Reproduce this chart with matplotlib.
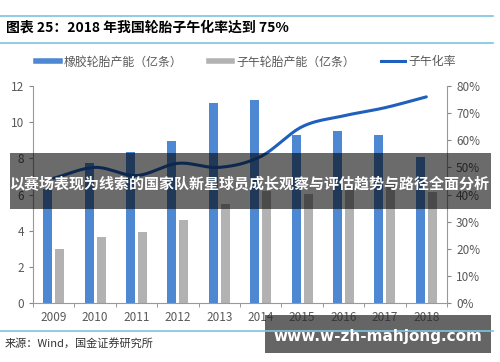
import numpy as np
import matplotlib.pyplot as plt
from matplotlib.patches import Rectangle
from matplotlib.lines import Line2D

plt.rcParams['font.family'] = ['Noto Sans CJK SC', 'DejaVu Sans']

# -----------------------
# DATA
# -----------------------
years = ['2009', '2010', '2011', '2012', '2013', '2014', '2015', '2016', '2017', '2018']
rubber = [6.3, 7.75, 8.35, 8.95, 11.05, 11.2, 9.3, 9.5, 9.3, 8.1]
radial = [3.0, 3.63, 3.93, 4.6, 5.5, 6.2, 6.05, 6.4, 6.7, 6.15]
radial_rate = [46, 50, 47, 51.5, 50, 54, 65, 69, 72, 76]

labels = ['橡胶轮胎产能（亿条）', '子午轮胎产能（亿条）', '子午化率']
title = '图表 25：2018 年我国轮胎子午化率达到 75%'
source = '来源：Wind，国金证券研究所'
banner = '以赛场表现为线索的国家队新星球员成长观察与评估趋势与路径全面分析'
watermark = 'www.w-zh-mahjong.com'

blue = '#4f88d2'
grey = '#b2b2b2'
line_blue = '#1f5fbe'
tick_col = '#595959'


def smooth(x, y, n=20):
    # catmull-rom through the points, only for drawing the curve
    x = np.asarray(x, float)
    y = np.asarray(y, float)
    px = np.concatenate([[2 * x[0] - x[1]], x, [2 * x[-1] - x[-2]]])
    py = np.concatenate([[2 * y[0] - y[1]], y, [2 * y[-1] - y[-2]]])
    xs, ys = [], []
    t = np.linspace(0, 1, n, endpoint=False)
    for i in range(1, len(px) - 2):
        for p, out in ((px, xs), (py, ys)):
            p0, p1, p2, p3 = p[i - 1], p[i], p[i + 1], p[i + 2]
            out.extend(0.5 * (2 * p1 + (-p0 + p2) * t
                              + (2 * p0 - 5 * p1 + 4 * p2 - p3) * t ** 2
                              + (-p0 + 3 * p1 - 3 * p2 + p3) * t ** 3))
    xs.append(x[-1])
    ys.append(y[-1])
    return np.array(xs), np.array(ys)


# -----------------------
# FIGURE
# -----------------------
fig = plt.figure(figsize=(5, 3.62), dpi=100)
ax = fig.add_axes([0.066, 0.163, 0.828, 0.5994])
ax2 = ax.twinx()

x = np.arange(len(years))
w = 0.22
ax.bar(x - 0.145, rubber, w, color=blue, zorder=2)
ax.bar(x + 0.145, radial, w, color=grey, zorder=2)

sx, sy = smooth(x, radial_rate)
ax2.plot(sx, sy, color=line_blue, lw=2.2, solid_capstyle='round')

ax.set_xlim(-0.5, len(years) - 0.5)
ax.set_ylim(0, 12)
ax.set_yticks(range(0, 13, 2))
ax2.set_ylim(0, 80)
ax2.set_yticks(range(0, 81, 10))
ax2.set_yticklabels([f'{v}%' for v in range(0, 81, 10)])

ax.set_xticks(x)
ax.set_xticklabels(years)
ax.set_xticks(np.arange(-0.5, len(years), 1), minor=True)
ax.tick_params(axis='x', which='major', length=0, pad=6)
ax.tick_params(axis='x', which='minor', length=3, color='#888888')

for a in (ax, ax2):
    a.spines['top'].set_visible(False)
    for s in ('left', 'right', 'bottom'):
        a.spines[s].set_color('#999999')
        a.spines[s].set_linewidth(0.8)
    a.tick_params(axis='y', labelsize=8.5, labelcolor=tick_col, color='#888888', length=3)
ax.tick_params(axis='x', labelsize=8.5, labelcolor=tick_col)
ax.spines['right'].set_visible(False)
ax2.spines['left'].set_visible(False)
ax2.spines['bottom'].set_visible(False)

# legend
handles = [Line2D([], [], color=blue, lw=4),
           Line2D([], [], color=grey, lw=4),
           Line2D([], [], color=line_blue, lw=2.2)]
fig.legend(handles, labels, loc='center', bbox_to_anchor=(0.492, 0.829), ncol=3,
           frameon=False, fontsize=8.6, handlelength=2.0, columnspacing=2.2,
           handletextpad=0.3, labelcolor=tick_col)

# title and rules
fig.text(0.012, 1 - 28 / 362, title, fontsize=10, fontweight='bold', va='center', color='black')
for yy in (16, 43, 331):
    fig.add_artist(Line2D([0.0, 0.986], [1 - yy / 362] * 2, color='#7cc4e0', lw=1.2))
fig.text(0.01, 1 - 343 / 362, source, fontsize=8, va='center', color='#333333')

# overlay banner
fig.add_artist(Rectangle((10 / 500, 1 - 209 / 362), 481 / 500, 56 / 362,
                         transform=fig.transFigure, color='black', alpha=0.58, lw=0))
fig.text(250 / 500, 1 - 183 / 362, banner, fontsize=10.8, fontweight='bold',
         color='white', ha='center', va='center')

# watermark
fig.add_artist(Rectangle((265 / 500, 1 - 353 / 362), 226 / 500, 38 / 362,
                         transform=fig.transFigure, color='#2a2a2a', alpha=0.72, lw=0))
fig.text(378 / 500, 1 - 336 / 362, watermark, fontsize=11, fontweight='bold',
         color='white', ha='center', va='center', family='DejaVu Sans')

fig.savefig('out.png', dpi=100)
